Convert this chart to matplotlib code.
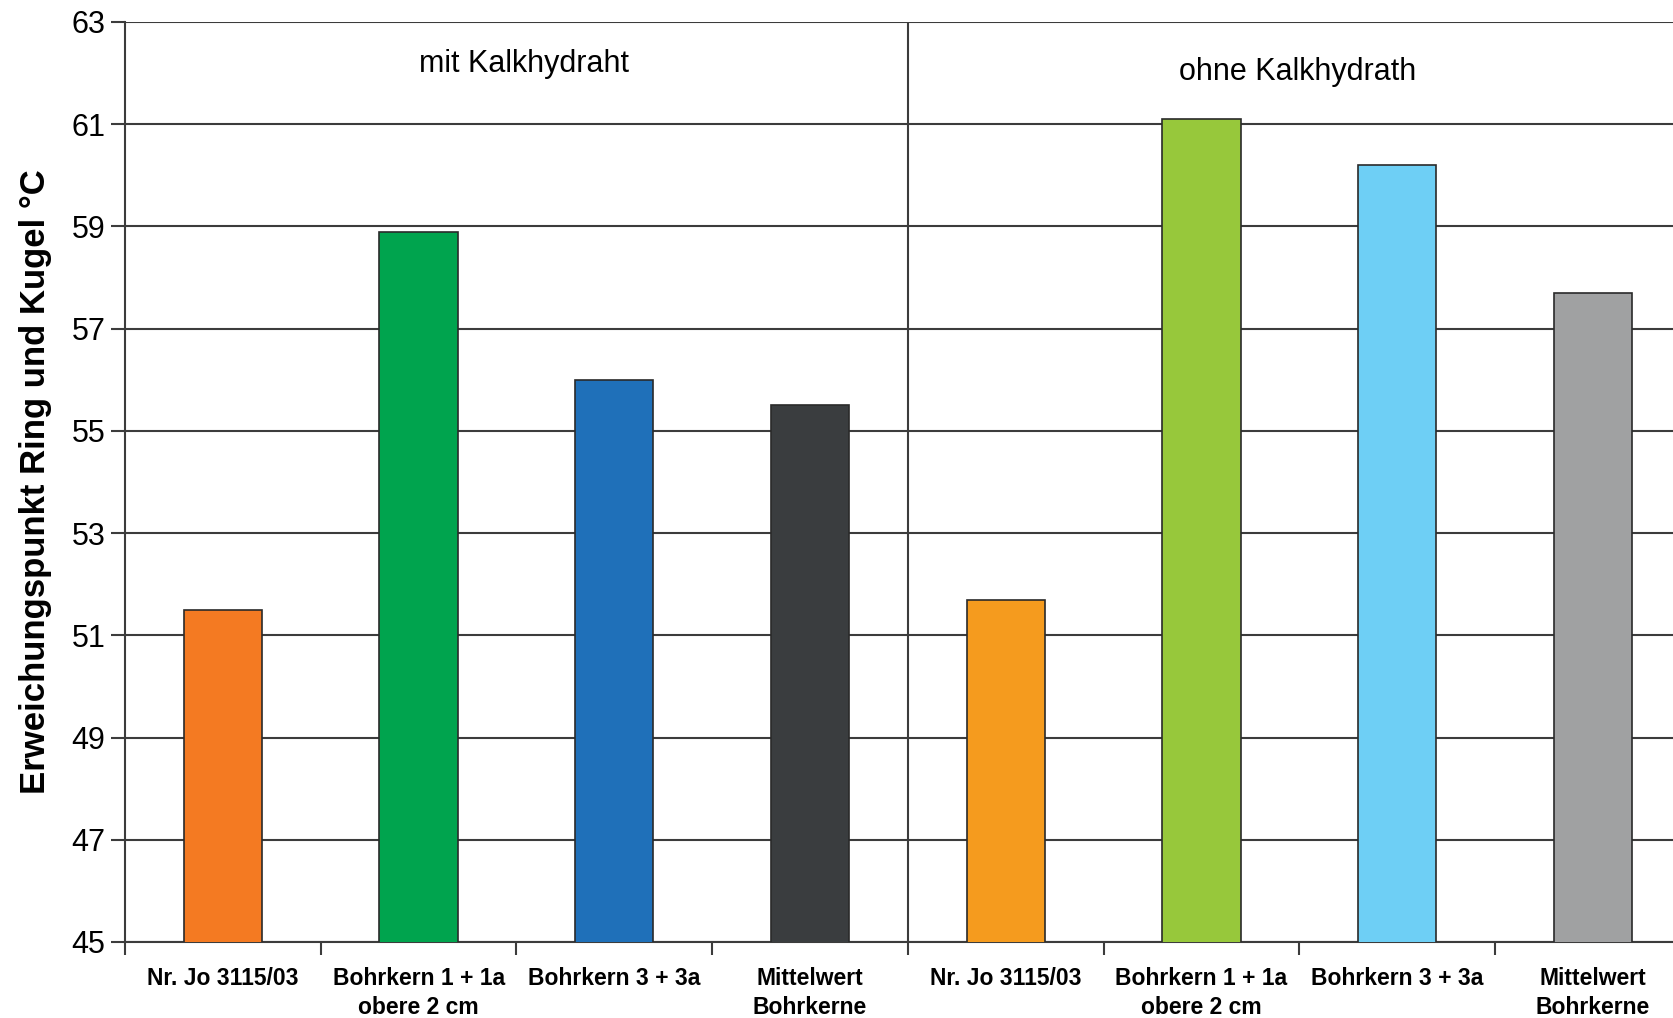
import matplotlib.pyplot as plt
import numpy as np

# Erweichungspunkt Ring und Kugel, mit / ohne Kalkhydrat
labels = ['Nr. Jo 3115/03', 'Bohrkern 1 + 1a\nobere 2 cm', 'Bohrkern 3 + 3a', 'Mittelwert\nBohrkerne',
          'Nr. Jo 3115/03', 'Bohrkern 1 + 1a\nobere 2 cm', 'Bohrkern 3 + 3a', 'Mittelwert\nBohrkerne']
values = [51.5, 58.9, 56.0, 55.5, 51.7, 61.1, 60.2, 57.7]
colors = ['#F47A22', '#00A44E', '#1F70B9', '#3A3D3F',
          '#F59B1E', '#97C83B', '#6ECFF5', '#A0A1A2']
groups = ['mit Kalkhydraht', 'ohne Kalkhydrath']
yticks = [45, 47, 49, 51, 53, 55, 57, 59, 61, 63]

plt.rcParams['font.family'] = ['Liberation Sans', 'DejaVu Sans']

fig = plt.figure(figsize=(16.73, 10.18), dpi=100)
ax = fig.add_axes([0.0747, 0.0747, 0.936, 0.9037])

x = np.arange(len(values))
ax.bar(x, values, width=0.4, bottom=0, color=colors, edgecolor='#2a2a2a', linewidth=1.2, zorder=3)

ax.set_ylim(45, 63)
ax.set_xlim(-0.5, 7.5)
ax.set_yticks(yticks)
ax.set_yticklabels([str(t) for t in yticks], fontsize=22)
ax.yaxis.grid(True, color='#3c3c3c', linewidth=1.5, zorder=0)
ax.tick_params(axis='y', length=10, width=1.5, color='#3c3c3c', pad=4)

# labels at the bar centres, tick marks between categories
ax.set_xticks(x)
ax.set_xticklabels(labels, fontsize=16.5, fontweight='bold', linespacing=1.35)
ax.set_xticks(np.arange(-0.5, 8, 1), minor=True)
ax.tick_params(axis='x', which='major', length=0, pad=18)
ax.tick_params(axis='x', which='minor', length=9, width=1.5, color='#3c3c3c')

for side in ['top', 'right']:
    ax.spines[side].set_visible(False)
for side in ['left', 'bottom']:
    ax.spines[side].set_color('#3c3c3c')
    ax.spines[side].set_linewidth(1.5)

# group separator
ax.axvline(3.5, color='#3c3c3c', linewidth=1.5, zorder=2)
ax.text(1.54, 62.18, groups[0], ha='center', va='center', fontsize=22)
ax.text(5.49, 62.03, groups[1], ha='center', va='center', fontsize=22)

ax.set_ylabel('Erweichungspunkt Ring und Kugel °C', fontsize=25, fontweight='bold', labelpad=14)

fig.savefig('out.png', dpi=100)
